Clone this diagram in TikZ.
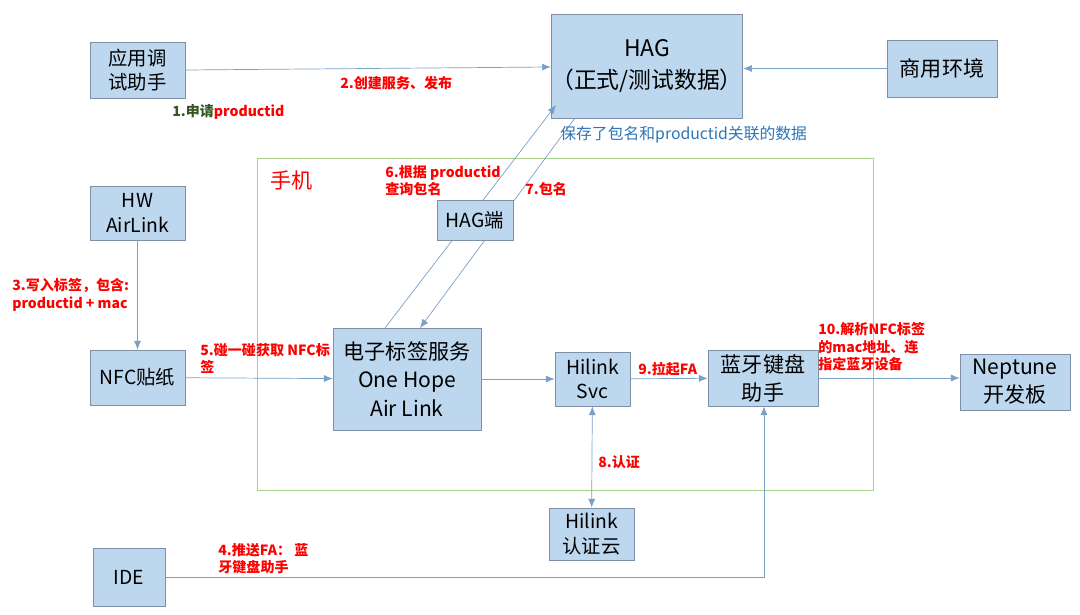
\documentclass[tikz,border=0pt]{standalone}
\usepackage{fontspec}
\setmainfont{Noto Sans CJK SC}
\usetikzlibrary{positioning,arrows.meta}
\definecolor{boxfill}{HTML}{BDD7EE}
\definecolor{boxline}{HTML}{7F8FA6}
\definecolor{arrowcol}{HTML}{7AA0C8}
\definecolor{labred}{HTML}{FF0000}
\definecolor{labgreen}{HTML}{375623}
\definecolor{notecol}{HTML}{2E75B6}
\definecolor{phonecol}{HTML}{A9D18E}
\tikzset{
	block/.style = {shape=rectangle, draw=boxline, fill=boxfill, align=center,
		font=\fontsize{11}{14}\selectfont, inner sep=0pt},
	bigblock/.style = {block, font=\fontsize{12}{16}\selectfont},
	steplabel/.style = {text=labred, font=\bfseries\fontsize{8}{10}\selectfont, align=left, anchor=north west, inner sep=0pt},
	link/.style  = {draw=arrowcol, -{Latex[length=5pt,width=4pt]}},
}
\begin{document}
\begin{tikzpicture}[x=0.02cm, y=-0.02cm]
\useasboundingbox (0,0) rectangle (1080,615);
% phone frame
\draw [phonecol] (257,158) rectangle (873,490);
\node [text=labred, font=\fontsize{12}{14}\selectfont, anchor=north west, inner sep=0pt] (phone) at (270,170) {手机};

% blocks
\node [block, minimum width=1.9cm, minimum height=1.12cm] (debug) at (137.5,70) {应用调\\试助手};
\node [bigblock, minimum width=3.64cm, minimum height=2.08cm, font=\fontsize{13}{18}\selectfont] (hag) at (647,66) {HAG\\（正式/测试数据）};
\node [bigblock, minimum width=2.2cm, minimum height=1.14cm] (biz) at (942,68.5) {商用环境};
\node [block, minimum width=1.9cm, minimum height=1.08cm] (hw) at (137.5,213) {HW\\AirLink};
\node [block, minimum width=1.9cm, minimum height=1.1cm] (nfc) at (137.5,377.5) {NFC贴纸};
\node [bigblock, minimum width=2.96cm, minimum height=2.04cm] (tag) at (407,379) {电子标签服务\\One Hope\\Air Link};
\node [block, minimum width=1.5cm, minimum height=1.08cm] (svc) at (592.5,379) {Hilink\\Svc};
\node [bigblock, minimum width=2.2cm, minimum height=1.12cm] (bt) at (763,378) {蓝牙键盘\\助手};
\node [bigblock, minimum width=2.2cm, minimum height=1.12cm] (nep) at (1015,382) {Neptune\\开发板};
\node [block, minimum width=1.7cm, minimum height=1.04cm] (cloud) at (591.5,534) {Hilink\\认证云};
\node [block, minimum width=1.44cm, minimum height=1.16cm] (ide) at (129,577) {IDE};

% connectors
\coordinate (tagtop) at (385,328);
\coordinate (hagfoot) at (556,105);
\coordinate (hagout) at (575,118);
\coordinate (tagin) at (420,328);
\coordinate (idecorner) at (764,577);
\draw [link] (debug.east) -- (hag.west |- 0,67);
\draw [link] (biz.west) -- (hag.east |- biz.west);
\draw [link] (hw) -- (nfc);
\draw [link] (nfc) -- (tag);
\draw [link] (tagtop) -- (hagfoot);
\draw [link] (hagout) -- (tagin);
\node [block, minimum width=1.52cm, minimum height=0.8cm] (hagend) at (475,220) {HAG端};
\draw [link] (tag) -- (svc);
\draw [link] (svc) -- (bt);
\draw [link] (bt.east) -- (nep.west |- bt.east);
\draw [link, {Latex[length=5pt,width=4pt]}-{Latex[length=5pt,width=4pt]}] (svc) -- (cloud);
\draw [link] (ide.east |- idecorner) -- (idecorner) -- (bt.south -| idecorner);

% labels
\node [steplabel] (l1) at (172,104) {\textcolor{labgreen}{1.申请}productid};
\node [steplabel] (l2) at (340,76) {2.创建服务、发布};
\node [steplabel] (l3) at (12,278) {3.写入标签，包含:\\productid + mac};
\node [steplabel] (l4) at (218,543) {4.推送FA： 蓝\\牙键盘助手};
\node [steplabel] (l5) at (200,343) {5.碰一碰获取 NFC标\\签};
\node [steplabel] (l6) at (385,165) {6.根据 productid\\查询包名};
\node [steplabel] (l7) at (525,182) {7.包名};
\node [steplabel] (l8) at (598,455) {8.认证};
\node [steplabel] (l9) at (638,362) {9.拉起FA};
\node [steplabel] (l10) at (818,322) {10.解析NFC标签\\的mac地址、连\\指定蓝牙设备};
\node [text=notecol, font=\fontsize{9}{11}\selectfont, anchor=north west, inner sep=0pt] (note) at (560,126) {保存了包名和productid关联的数据};
\end{tikzpicture}
\end{document}
